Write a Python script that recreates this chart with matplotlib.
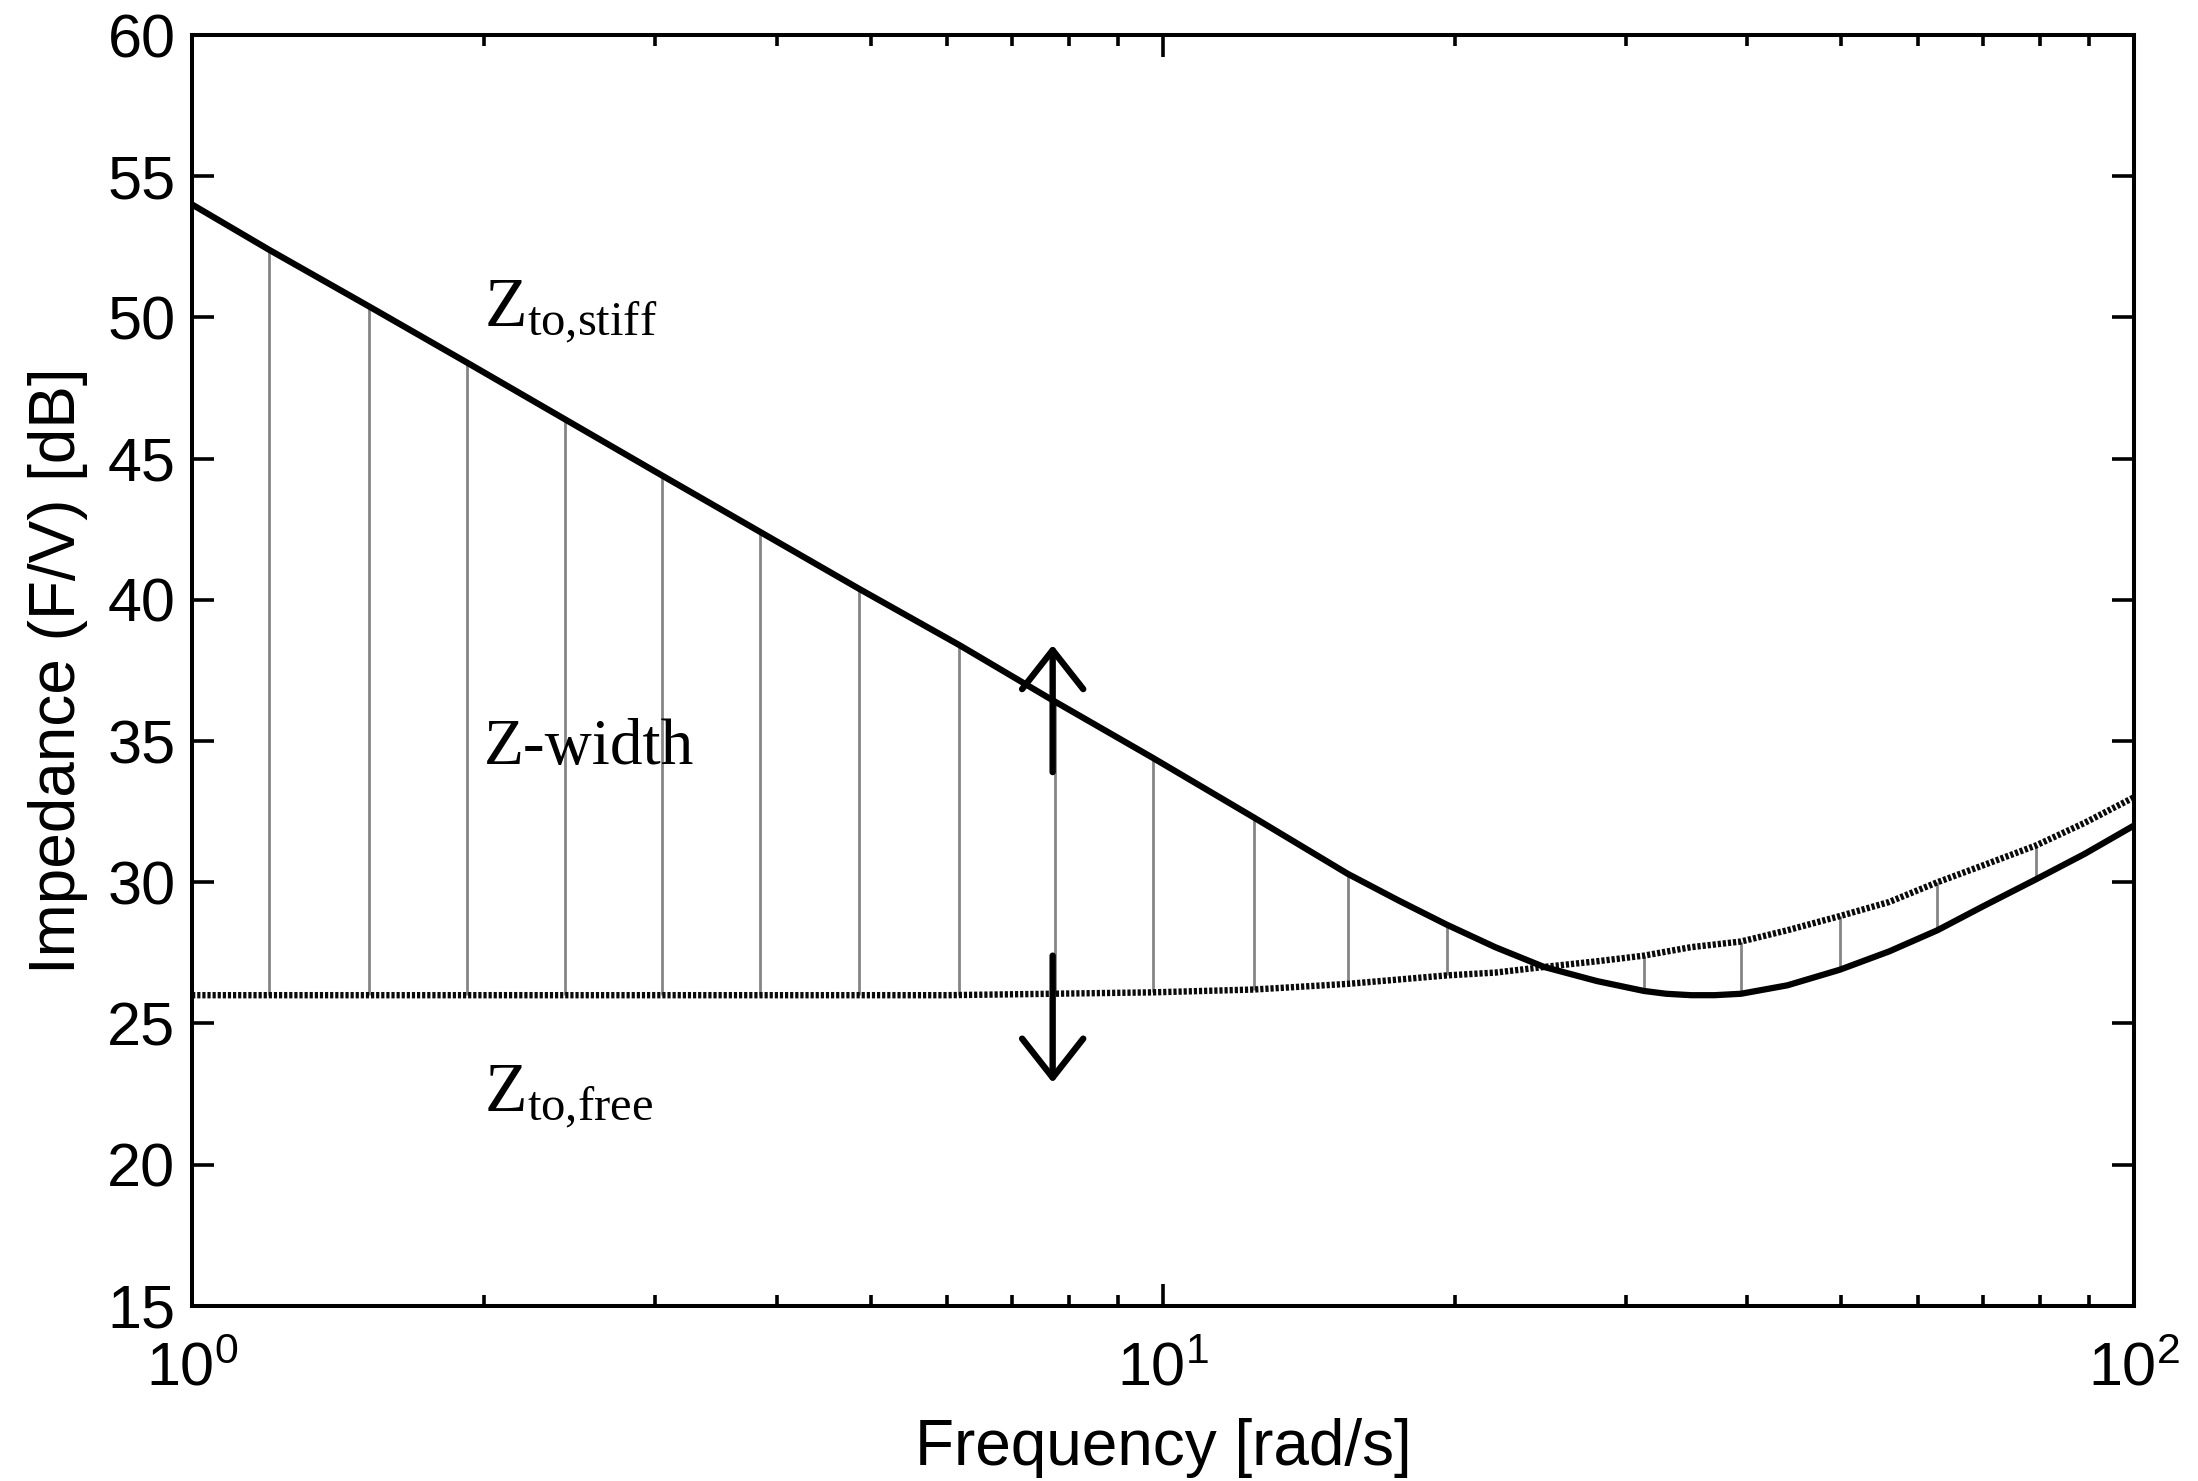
import matplotlib
matplotlib.use("Agg")
import matplotlib.pyplot as plt

plt.rcParams['font.family'] = ['Liberation Sans', 'DejaVu Sans']
plt.rcParams['mathtext.fontset'] = 'custom'
plt.rcParams['mathtext.rm'] = 'Liberation Serif'
plt.rcParams['mathtext.it'] = 'Liberation Serif:italic'

# ---- data ----
stiff_freq = [1.0, 1.2, 1.52, 1.92, 2.42, 3.05, 3.85, 4.86, 6.17, 7.74, 9.77,
              12.4, 15.5, 17.5, 19.6, 22.0, 24.7, 28.0, 31.3, 33.0, 35.0, 37.0,
              39.4, 44.0, 49.8, 56.0, 62.8, 70.0, 79.3, 89.0, 100.0]
stiff_db = [54.0, 52.4, 50.4, 48.4, 46.4, 44.4, 42.4, 40.4, 38.4, 36.4, 34.4,
            32.3, 30.3, 29.35, 28.5, 27.7, 27.0, 26.5, 26.15, 26.05, 26.0, 26.0,
            26.05, 26.35, 26.9, 27.55, 28.3, 29.15, 30.1, 31.0, 32.0]

free_freq = [1.0, 3.0, 6.0, 9.77, 12.4, 15.5, 19.6, 22.0, 24.7, 28.0, 31.3,
             35.0, 39.4, 44.0, 49.8, 56.0, 62.8, 70.0, 79.3, 89.0, 100.0]
free_db = [26.0, 26.0, 26.0, 26.1, 26.2, 26.4, 26.7, 26.8, 27.0, 27.2, 27.4,
           27.7, 27.9, 28.3, 28.8, 29.3, 30.0, 30.6, 31.3, 32.1, 33.0]

hatch_freq = [1.2, 1.52, 1.92, 2.42, 3.05, 3.85, 4.86, 6.17, 7.74, 9.77,
              12.4, 15.5, 19.6, 24.7, 31.3, 39.4, 49.8, 62.8, 79.3]
hatch_stiff = [52.4, 50.4, 48.4, 46.4, 44.4, 42.4, 40.4, 38.4, 36.4, 34.4,
               32.3, 30.3, 28.5, 27.0, 26.15, 26.05, 26.9, 28.3, 30.1]
hatch_free = [26.0, 26.0, 26.0, 26.0, 26.0, 26.0, 26.0, 26.0, 26.05, 26.1,
              26.2, 26.4, 26.7, 27.0, 27.4, 27.9, 28.8, 30.0, 31.3]

yticks = [15, 20, 25, 30, 35, 40, 45, 50, 55, 60]

fig = plt.figure(figsize=(21.98, 14.81), dpi=100)
ax = fig.add_axes([0.0874, 0.1183, 0.8833, 0.858])

ax.vlines(hatch_freq, hatch_free, hatch_stiff, colors='#858585', linewidth=2.0, zorder=1)
ax.plot(free_freq, free_db, color='#0a0a0a', linewidth=4.6, linestyle=(0, (0.5, 0.3)), zorder=2)
ax.plot(stiff_freq, stiff_db, color='black', linewidth=4.5, zorder=3,
        solid_joinstyle='round')

ax.set_xscale('log')
ax.set_xlim(1, 100)
ax.set_ylim(15, 60)
ax.set_yticks(yticks)

for s in ax.spines.values():
    s.set_linewidth(2.9)

ax.tick_params(which='both', direction='in', top=True, right=True, width=2.6,
               labelsize=44)
ax.tick_params(axis='y', pad=12)
ax.tick_params(axis='x', pad=26)
ax.tick_params(which='major', length=16)
ax.tick_params(which='minor', length=8)

ax.set_xlabel('Frequency [rad/s]', fontsize=46, labelpad=14)
ax.set_ylabel('Impedance (F/V) [dB]', fontsize=46, labelpad=14)

ax.text(2.0, 49.7, r'$\mathrm{Z}_{\mathrm{to{,}stiff}}$', fontsize=50, ha='left', va='baseline')
ax.text(2.0, 34.2, 'Z-width', fontsize=47, family='Liberation Serif', ha='left', va='baseline')
ax.text(2.0, 21.9, r'$\mathrm{Z}_{\mathrm{to{,}free}}$', fontsize=50, ha='left', va='baseline')

arrow_f = 7.7
arrow_style = '->,head_length=2.8,head_width=2.2'
ax.annotate('', xy=(arrow_f, 38.4), xytext=(arrow_f, 33.9),
            arrowprops=dict(arrowstyle=arrow_style, lw=4.6, color='black',
                            shrinkA=0, shrinkB=0))
ax.annotate('', xy=(arrow_f, 22.9), xytext=(arrow_f, 27.4),
            arrowprops=dict(arrowstyle=arrow_style, lw=4.6, color='black',
                            shrinkA=0, shrinkB=0))

fig.savefig('out.png', dpi=100)
